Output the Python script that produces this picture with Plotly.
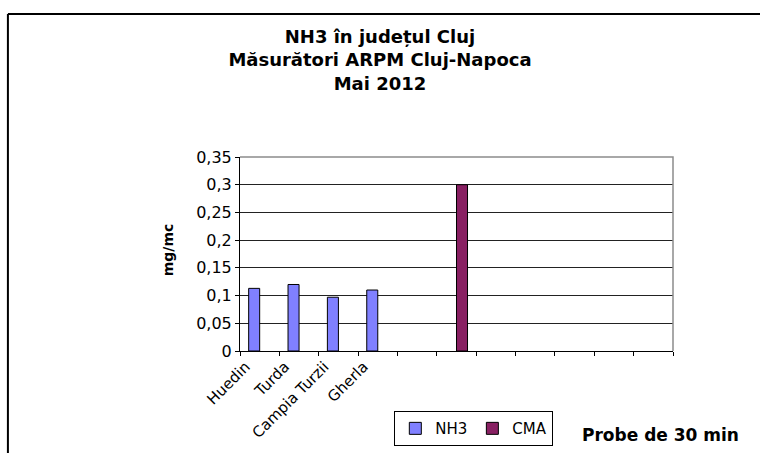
import plotly.graph_objects as go

# ---- data ----
categories = ["Huedin", "Turda", "Campia Turzii", "Gherla",
              "\u200b", "\u200b\u200b", "\u200b\u200b\u200b", "\u200b\u200b\u200b\u200b",
              "\u200b\u200b\u200b\u200b\u200b", "\u200b\u200b\u200b\u200b\u200b\u200b",
              "\u200b\u200b\u200b\u200b\u200b\u200b\u200b"]
nh3_values = [0.113, 0.12, 0.097, 0.11, None, None, None, None, None, None, None]
cma_values = [None, None, None, None, None, 0.3, None, None, None, None, None]
y_ticks = [0, 0.05, 0.1, 0.15, 0.2, 0.25, 0.3, 0.35]
y_ticktext = ["0", "0,05", "0,1", "0,15", "0,2", "0,25", "0,3", "0,35"]

FONT = "DejaVu Sans"

fig = go.Figure()
fig.add_trace(go.Bar(x=categories, y=nh3_values, name="NH3",
                     marker=dict(color="#8080FF", line=dict(color="black", width=1))))
fig.add_trace(go.Bar(x=categories, y=cma_values, name="CMA",
                     marker=dict(color="#882062", line=dict(color="black", width=1))))

fig.update_layout(
    width=760, height=453,
    margin=dict(l=240, r=87, t=157, b=102, autoexpand=False),
    paper_bgcolor="white", plot_bgcolor="white",
    barmode="group", bargap=0.44, bargroupgap=0,
    font=dict(family=FONT, color="black", size=14),
    title=dict(
        text="<b>NH3 în județul Cluj<br>Măsurători ARPM Cluj-Napoca<br>Mai 2012</b>",
        x=0.5, xanchor="center", xref="container",
        y=1 - 43 / 453, yanchor="top", yref="container",
        font=dict(family=FONT, size=18, color="black"),
    ),
    showlegend=True,
    legend=dict(orientation="h", x=0.54, y=-0.40, xanchor="center", yanchor="middle",
                xref="paper", yref="paper",
                bordercolor="black", borderwidth=1, bgcolor="white",
                font=dict(family=FONT, size=15, color="black"),
                itemwidth=30, tracegroupgap=0),
)

fig.update_xaxes(
    type="category", categoryorder="array", categoryarray=categories,
    showline=True, linecolor="black", linewidth=1,
    ticks="outside", tickson="boundaries", ticklen=4, tickcolor="black",
    tickangle=-45, tickfont=dict(family=FONT, size=15, color="black"),
    ticklabelshift=-14, automargin=False,
    showgrid=False, zeroline=False,
)
fig.update_yaxes(
    range=[0, 0.35], tickvals=y_ticks, ticktext=y_ticktext,
    showline=True, linecolor="black", linewidth=1,
    ticks="outside", ticklen=4, tickcolor="black",
    tickfont=dict(family=FONT, size=16, color="black"),
    showgrid=True, gridcolor="#222222", gridwidth=1, zeroline=False,
    automargin=False,
)

# plot-area border (top and right, gray)
fig.add_shape(type="path", xref="paper", yref="paper",
              path="M 0,1 L 1,1 L 1,0", line=dict(color="#8c8c8c", width=1.5), layer="above")
# outer chart frame (top and left)
fig.add_shape(type="line", xref="paper", yref="paper",
              x0=-0.536, x1=1.25, y0=1.737, y1=1.737, line=dict(color="black", width=2))
fig.add_shape(type="line", xref="paper", yref="paper",
              x0=-0.536, x1=-0.536, y0=1.737, y1=-0.6, line=dict(color="black", width=2))

fig.add_annotation(text="<b>mg/mc</b>", textangle=-90, xref="paper", yref="paper",
                   x=-0.189, y=0.52, showarrow=False,
                   font=dict(family=FONT, size=14, color="black"))
fig.add_annotation(text="<b>Probe de 30 min</b>", xref="paper", yref="paper",
                   x=0.972, y=-0.433, showarrow=False, xanchor="center", yanchor="middle",
                   font=dict(family=FONT, size=17, color="black"))

fig.write_html("out.html")
